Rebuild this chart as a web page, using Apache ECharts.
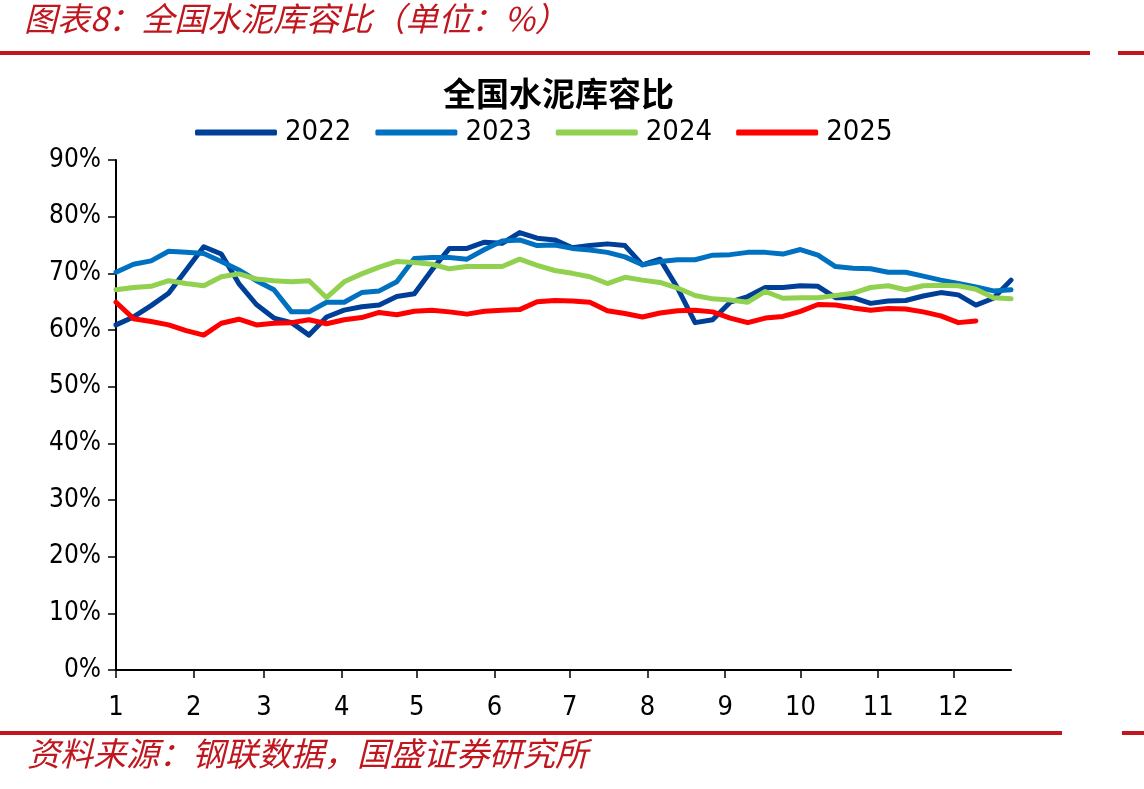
<!DOCTYPE html>
<html>
<head>
<meta charset="utf-8">
<script src="https://cdn.jsdelivr.net/npm/echarts@6/dist/echarts.min.js"></script>
<style>
  html, body { margin: 0; padding: 0; background: #fff; }
  #chart { width: 1144px; height: 789px; }
</style>
</head>
<body>
<div id="chart"></div>
<script>
// 周度日期（统一映射到同一年份）
const weeks = [
  '2025-01-01', '2025-01-08', '2025-01-15', '2025-01-22', '2025-01-29',
  '2025-02-05', '2025-02-12', '2025-02-19', '2025-02-26',
  '2025-03-05', '2025-03-12', '2025-03-19', '2025-03-26',
  '2025-04-02', '2025-04-09', '2025-04-16', '2025-04-23', '2025-04-30',
  '2025-05-07', '2025-05-14', '2025-05-21', '2025-05-28',
  '2025-06-04', '2025-06-11', '2025-06-18', '2025-06-25',
  '2025-07-02', '2025-07-09', '2025-07-16', '2025-07-23', '2025-07-30',
  '2025-08-06', '2025-08-13', '2025-08-20', '2025-08-27',
  '2025-09-03', '2025-09-10', '2025-09-17', '2025-09-24',
  '2025-10-01', '2025-10-08', '2025-10-15', '2025-10-22', '2025-10-29',
  '2025-11-05', '2025-11-12', '2025-11-19', '2025-11-26',
  '2025-12-03', '2025-12-10', '2025-12-17', '2025-12-24',
]
// 月份标签
const monthLabels = ['1', '2', '3', '4', '5', '6', '7', '8', '9', '10', '11', '12']

const y2022 = [
  60.9, 62.3, 64.3, 66.5, 70.6, 74.7, 73.4, 68.2, 64.5, 62.1,
  61.3, 59.1, 62.3, 63.5, 64.1, 64.4, 65.9, 66.4, 70.6, 74.4,
  74.4, 75.5, 75.3, 77.2, 76.2, 75.9, 74.5, 74.9, 75.2, 74.9,
  71.5, 72.5, 67.4, 61.3, 61.8, 64.9, 65.9, 67.5, 67.5, 67.8,
  67.7, 65.7, 65.7, 64.7, 65.1, 65.2, 66.0, 66.6, 66.2, 64.4,
  65.6, 68.8,
]
const y2023 = [
  70.2, 71.6, 72.2, 73.9, 73.7, 73.5, 72.1, 70.6, 68.7, 67.1,
  63.2, 63.2, 64.9, 64.9, 66.6, 66.9, 68.5, 72.6, 72.8, 72.8,
  72.5, 74.2, 75.7, 75.9, 74.9, 75.0, 74.4, 74.1, 73.7, 72.9,
  71.5, 72.1, 72.4, 72.4, 73.2, 73.3, 73.7, 73.7, 73.4, 74.2,
  73.2, 71.2, 70.9, 70.8, 70.2, 70.2, 69.5, 68.8, 68.2, 67.6,
  66.9, 67.1,
]
const y2024 = [
  67.1, 67.5, 67.7, 68.7, 68.2, 67.8, 69.4, 69.9, 69.0, 68.7,
  68.5, 68.7, 65.7, 68.5, 69.9, 71.1, 72.1, 71.9, 71.6, 70.8,
  71.2, 71.2, 71.2, 72.5, 71.4, 70.5, 70.0, 69.4, 68.2, 69.3,
  68.8, 68.4, 67.4, 66.1, 65.5, 65.3, 64.9, 66.8, 65.6, 65.7,
  65.7, 66.1, 66.5, 67.5, 67.8, 67.1, 67.8, 67.9, 67.8, 67.2,
  65.7, 65.5,
]
const y2025 = [
  64.9, 62.0, 61.5, 60.9, 59.9, 59.1, 61.2, 61.9, 60.9, 61.2,
  61.3, 61.8, 61.1, 61.8, 62.2, 63.1, 62.7, 63.3, 63.5, 63.2,
  62.8, 63.3, 63.5, 63.6, 65.0, 65.2, 65.1, 64.9, 63.4, 62.9,
  62.3, 63.0, 63.4, 63.5, 63.2, 62.1, 61.3, 62.1, 62.4, 63.3,
  64.5, 64.4, 63.9, 63.5, 63.8, 63.7, 63.2, 62.5, 61.3, 61.6,
]
const yTicks = { min: 0, max: 90, interval: 10 }

const NARROW = "'Liberation Sans Narrow', 'Arial Narrow', 'DejaVu Sans Condensed', sans-serif"
const CJK = "'Noto Sans CJK SC', sans-serif"
const RED = '#C0171F'
const DAY = 24 * 3600 * 1000

const toPairs = (vals) => vals.map((v, i) => [weeks[i], v])

const mkLine = (name, vals, color) => ({
  name, type: 'line',
  data: toPairs(vals),
  showSymbol: false, symbol: 'none', smooth: false,
  lineStyle: { color, width: 5, cap: 'round', join: 'round' },
  itemStyle: { color },
})

const chart = echarts.init(document.getElementById('chart'), null, { renderer: 'canvas' })

const option = {
  animation: false,
  backgroundColor: '#fff',
  title: {
    text: '全国水泥库容比',
    left: 438, top: 72,
    textStyle: { fontFamily: CJK, fontSize: 33, fontWeight: 'bold', color: '#000' },
  },
  legend: {
    left: 195, top: 118,
    padding: 0,
    icon: 'roundRect',
    itemWidth: 82, itemHeight: 6,
    itemGap: 24,
    textStyle: { fontFamily: NARROW, fontSize: 29, color: '#000', padding: [0, 0, 0, 3] },
    data: ['2022', '2023', '2024', '2025'],
  },
  grid: { left: 116, right: 133, top: 160, bottom: 119, containLabel: false },
  xAxis: {
    type: 'time',
    min: weeks[0],
    max: weeks[weeks.length - 1],
    minInterval: 28 * DAY,
    maxInterval: 31 * DAY,
    axisLine: { lineStyle: { color: '#000', width: 2 } },
    axisTick: { show: true, length: 8, lineStyle: { color: '#000', width: 1.5 } },
    axisLabel: {
      formatter: (val) => monthLabels[new Date(val).getMonth()],
      fontFamily: NARROW, fontSize: 27, color: '#000', margin: 24,
      hideOverlap: false,
    },
    splitLine: { show: false },
  },
  yAxis: {
    type: 'value',
    min: yTicks.min, max: yTicks.max, interval: yTicks.interval,
    axisLine: { show: true, lineStyle: { color: '#000', width: 2 } },
    axisTick: { show: true, length: 8, lineStyle: { color: '#000', width: 1.5 } },
    axisLabel: { formatter: '{value}%', fontFamily: NARROW, fontSize: 26, color: '#000', margin: 15 },
    splitLine: { show: false },
  },
  graphic: [
    { type: 'text', left: 24, top: 2,
      style: { text: '图表8：全国水泥库容比（单位：%）', fill: RED, font: 'italic 33px ' + CJK } },
    { type: 'rect', shape: { x: 0, y: 51, width: 1090, height: 4 }, style: { fill: RED } },
    { type: 'rect', shape: { x: 1118, y: 51, width: 26, height: 4 }, style: { fill: RED } },
    { type: 'rect', shape: { x: 0, y: 731, width: 1062, height: 4 }, style: { fill: RED } },
    { type: 'rect', shape: { x: 1122, y: 731, width: 22, height: 4 }, style: { fill: RED } },
    { type: 'text', left: 27, top: 737,
      style: { text: '资料来源：钢联数据，国盛证券研究所', fill: RED, font: 'italic 33px ' + CJK } },
  ],
  series: [
    mkLine('2022', y2022, '#003F98'),
    mkLine('2023', y2023, '#0070C0'),
    mkLine('2024', y2024, '#92D050'),
    mkLine('2025', y2025, '#FF0000'),
  ],
}

chart.setOption(option)
</script>
</body>
</html>
